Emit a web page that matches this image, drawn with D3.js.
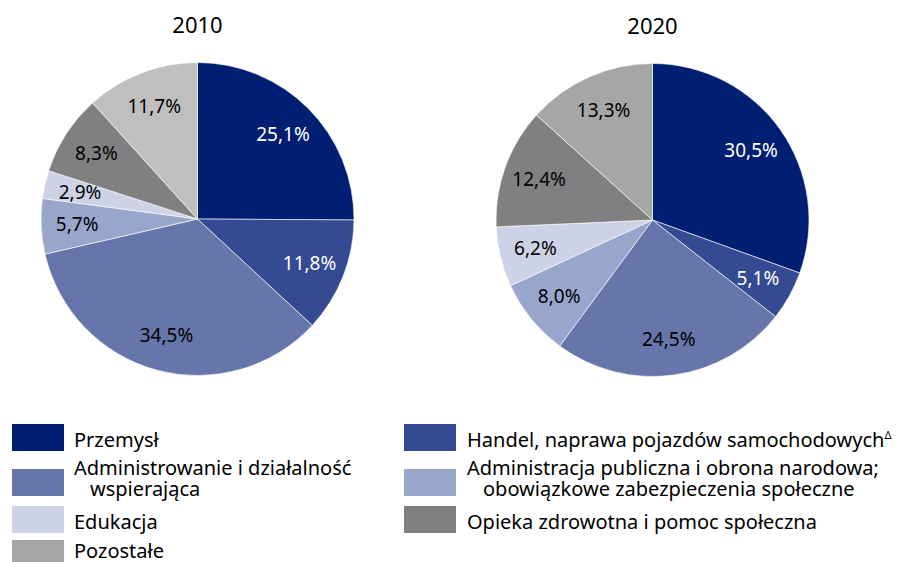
<!DOCTYPE html>
<html>
<head>
<meta charset="utf-8">
<script src="https://cdn.jsdelivr.net/npm/d3@7"></script>
<style>
  body { margin: 0; background: #fff; }
  svg text { font-family: "Noto Sans", "Open Sans", sans-serif; fill: #000; }
</style>
</head>
<body>
<svg id="chart" width="906" height="562"></svg>
<script>
// categories, clockwise from 12 o'clock
const categories = [
  'Przemysł',
  'Handel, naprawa pojazdów samochodowych',
  'Administrowanie i działalność wspierająca',
  'Administracja publiczna i obrona narodowa; obowiązkowe zabezpieczenia społeczne',
  'Edukacja',
  'Opieka zdrowotna i pomoc społeczna',
  'Pozostałe'
];
const years = ['2010', '2020'];
const values2010 = [25.1, 11.8, 34.5, 5.7, 2.9, 8.3, 11.7];
const values2020 = [30.5, 5.1, 24.5, 8.0, 6.2, 12.4, 13.3];
const colors = ['#001f73', '#344a93', '#6676ab', '#99a6cb', '#cdd2e6', '#808080', '#a6a6a6'];
const colors2010 = ['#001f73', '#344a93', '#6676ab', '#99a6cb', '#cdd2e6', '#808080', '#bfbfbf'];
const labelColors = ['#fff', '#fff', '#000', '#000', '#000', '#000', '#000'];

// legend: left column and right column, lines per entry
const legendLeft = [
  { idx: 0, lines: ['Przemysł'] },
  { idx: 2, lines: ['Administrowanie i działalność', 'wspierająca'] },
  { idx: 4, lines: ['Edukacja'] },
  { idx: 6, lines: ['Pozostałe'] }
];
const legendRight = [
  { idx: 1, lines: ['Handel, naprawa pojazdów samochodowych'], sup: 'Δ' },
  { idx: 3, lines: ['Administracja publiczna i obrona narodowa;', 'obowiązkowe zabezpieczenia społeczne'] },
  { idx: 5, lines: ['Opieka zdrowotna i pomoc społeczna'] }
];

const svg = d3.select('#chart');
const radius = 156.5;
const pies = [
  { year: years[0], values: values2010, fill: colors2010, cx: 197.5, cy: 219 },
  { year: years[1], values: values2020, fill: colors, cx: 652.5, cy: 220 }
];

const pie = d3.pie().sort(null).value(d => d);
const arc = d3.arc().innerRadius(0).outerRadius(radius);
const labelArc = d3.arc().innerRadius(radius * 0.77).outerRadius(radius * 0.77);
const fmt = v => d3.format('.1f')(v).replace('.', ',') + '%';

pies.forEach(p => {
  const g = svg.append('g')
    .attr('transform', `translate(${p.cx},${p.cy})`);

  g.append('text')
    .attr('x', 0)
    .attr('y', -186)
    .attr('text-anchor', 'middle')
    .style('font-size', '22px')
    .text(p.year);

  const slices = g.selectAll('.slice')
      .data(pie(p.values))
    .enter().append('g')
      .attr('class', 'slice');

  slices.append('path')
    .attr('d', arc)
    .style('fill', (d, i) => p.fill[i])
    .style('stroke', '#fff')
    .style('stroke-width', 0.6);

  slices.append('text')
    .attr('transform', d => `translate(${labelArc.centroid(d)})`)
    .attr('text-anchor', 'middle')
    .attr('dy', '0.35em')
    .style('font-size', '19px')
    .style('fill', (d, i) => labelColors[i])
    .text(d => fmt(d.data));
});

function drawLegend(items, x0, textX) {
  const rowTops = [424, 469, 506, 540];
  const baselines = [[447], [475, 496], [529], [558]];
  items.forEach((item, k) => {
    const top = rowTops[k];
    svg.append('rect')
      .attr('x', x0)
      .attr('y', top)
      .attr('width', 52)
      .attr('height', 27)
      .style('fill', colors[item.idx]);
    const t = svg.append('text')
      .style('font-size', '20px');
    item.lines.forEach((line, j) => {
      t.append('tspan')
        .attr('x', j === 0 ? textX : textX + 16)
        .attr('y', baselines[k][j])
        .text(line);
    });
    if (item.sup) {
      t.append('tspan')
        .attr('dy', -8)
        .style('font-size', '11px')
        .text(item.sup);
    }
  });
}

drawLegend(legendLeft, 12, 74);
drawLegend(legendRight, 404, 467);
</script>
</body>
</html>
